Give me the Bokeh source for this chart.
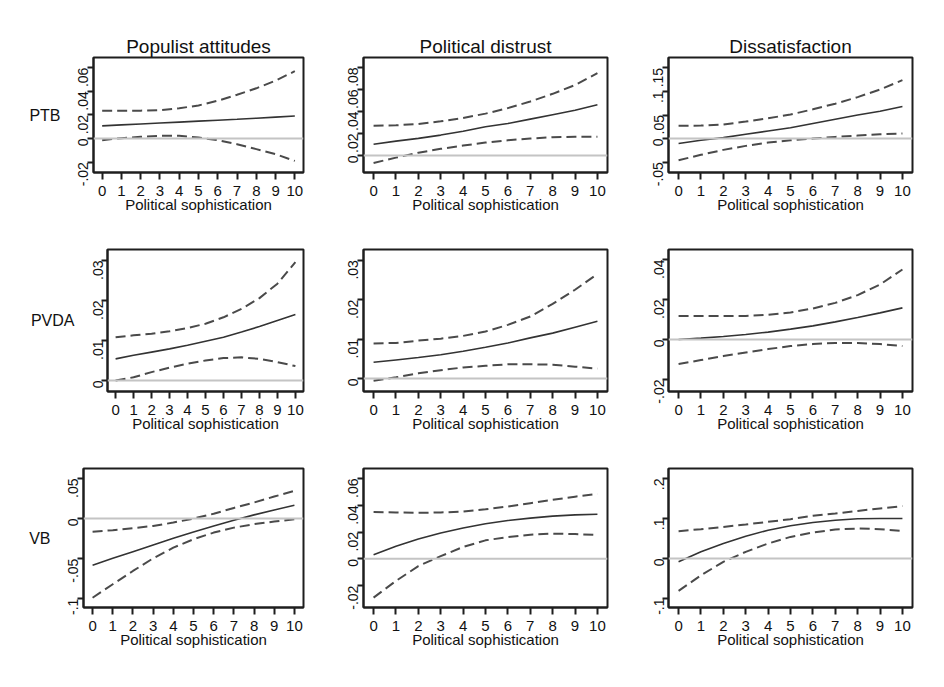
import math
from bokeh.plotting import figure
from bokeh.layouts import column, row
from bokeh.models import FixedTicker, Range1d, Span
from bokeh.embed import file_html
from bokeh.resources import INLINE

x_soph = list(range(11))
x_tick_labels = [str(v) for v in x_soph]
col_titles = ["Populist attitudes", "Political distrust", "Dissatisfaction"]
row_labels = ["PTB", "PVDA", "VB"]
x_title = "Political sophistication"

ptb_pop_est = [0.0107, 0.0115, 0.0123, 0.0131, 0.0139, 0.0147, 0.0155, 0.0163, 0.0172, 0.0181, 0.0190]
ptb_pop_hi = [0.0234, 0.0234, 0.0236, 0.0240, 0.0256, 0.0280, 0.0320, 0.0370, 0.0425, 0.0490, 0.0570]
ptb_pop_lo = [-0.0014, 0.0003, 0.0014, 0.0023, 0.0023, 0.0008, -0.0014, -0.0048, -0.0090, -0.0132, -0.0190]

ptb_dis_est = [0.0102, 0.0130, 0.0155, 0.0185, 0.0220, 0.0260, 0.0290, 0.0330, 0.0370, 0.0410, 0.0460]
ptb_dis_hi = [0.0270, 0.0274, 0.0286, 0.0310, 0.0340, 0.0380, 0.0430, 0.0490, 0.0560, 0.0640, 0.0748]
ptb_dis_lo = [-0.0068, -0.0020, 0.0025, 0.0060, 0.0090, 0.0117, 0.0138, 0.0154, 0.0166, 0.0170, 0.0170]

ptb_sat_est = [-0.0106, -0.0035, 0.0020, 0.0090, 0.0160, 0.0230, 0.0320, 0.0410, 0.0500, 0.0580, 0.0680]
ptb_sat_hi = [0.0270, 0.0275, 0.0300, 0.0360, 0.0430, 0.0510, 0.0620, 0.0740, 0.0880, 0.1040, 0.1240]
ptb_sat_lo = [-0.0460, -0.0345, -0.0240, -0.0155, -0.0085, -0.0035, 0.0000, 0.0035, 0.0063, 0.0090, 0.0106]

pvda_pop_est = [0.0054, 0.0063, 0.0071, 0.0079, 0.0088, 0.0098, 0.0108, 0.0121, 0.0135, 0.0150, 0.0165]
pvda_pop_hi = [0.0108, 0.0113, 0.0117, 0.0123, 0.0131, 0.0142, 0.0158, 0.0179, 0.0206, 0.0242, 0.0296]
pvda_pop_lo = [0.0000, 0.0008, 0.0021, 0.0032, 0.0042, 0.0050, 0.0056, 0.0058, 0.0054, 0.0046, 0.0036]

pvda_dis_est = [0.0041, 0.0047, 0.0053, 0.0060, 0.0069, 0.0079, 0.0090, 0.0103, 0.0115, 0.0130, 0.0145]
pvda_dis_hi = [0.0089, 0.0090, 0.0096, 0.0101, 0.0108, 0.0119, 0.0136, 0.0157, 0.0189, 0.0225, 0.0265]
pvda_dis_lo = [-0.0006, 0.0003, 0.0013, 0.0021, 0.0028, 0.0032, 0.0036, 0.0036, 0.0035, 0.0030, 0.0025]

pvda_sat_est = [0.0000, 0.0007, 0.0015, 0.0025, 0.0037, 0.0052, 0.0068, 0.0088, 0.0110, 0.0133, 0.0158]
pvda_sat_hi = [0.0117, 0.0117, 0.0117, 0.0118, 0.0123, 0.0135, 0.0155, 0.0183, 0.0222, 0.0275, 0.0350]
pvda_sat_lo = [-0.0123, -0.0103, -0.0083, -0.0065, -0.0048, -0.0033, -0.0023, -0.0017, -0.0017, -0.0023, -0.0033]

vb_pop_est = [-0.0583, -0.0496, -0.0413, -0.0330, -0.0246, -0.0167, -0.0092, -0.0020, 0.0046, 0.0108, 0.0167]
vb_pop_hi = [-0.0163, -0.0146, -0.0121, -0.0092, -0.0050, 0.0000, 0.0060, 0.0133, 0.0200, 0.0275, 0.0346]
vb_pop_lo = [-0.0988, -0.0820, -0.0654, -0.0496, -0.0363, -0.0258, -0.0175, -0.0113, -0.0070, -0.0038, -0.0008]

vb_dis_est = [0.0030, 0.0094, 0.0148, 0.0193, 0.0230, 0.0262, 0.0286, 0.0304, 0.0319, 0.0328, 0.0333]
vb_dis_hi = [0.0350, 0.0346, 0.0343, 0.0346, 0.0353, 0.0370, 0.0390, 0.0415, 0.0440, 0.0464, 0.0484]
vb_dis_lo = [-0.0289, -0.0165, -0.0054, 0.0020, 0.0089, 0.0138, 0.0163, 0.0180, 0.0188, 0.0185, 0.0178]

vb_sat_est = [-0.0083, 0.0167, 0.0375, 0.0558, 0.0708, 0.0817, 0.0900, 0.0958, 0.0992, 0.1000, 0.1000]
vb_sat_hi = [0.0683, 0.0733, 0.0790, 0.0850, 0.0917, 0.0983, 0.1067, 0.1125, 0.1190, 0.1250, 0.1310]
vb_sat_lo = [-0.0810, -0.0420, -0.0083, 0.0167, 0.0375, 0.0540, 0.0650, 0.0725, 0.0750, 0.0733, 0.0690]

# y ticks and their labels per panel
y_ticks = [
    [[-0.02, 0, 0.02, 0.04, 0.06], [0, 0.02, 0.04, 0.06, 0.08], [-0.05, 0, 0.05, 0.1, 0.15]],
    [[0, 0.01, 0.02, 0.03], [0, 0.01, 0.02, 0.03], [-0.02, 0, 0.02, 0.04]],
    [[-0.1, -0.05, 0, 0.05], [-0.02, 0, 0.02, 0.04, 0.06], [-0.1, 0, 0.1, 0.2]],
]
y_tick_labels = [
    [["-.02", "0", ".02", ".04", ".06"], ["0", ".02", ".04", ".06", ".08"], ["-.05", "0", ".05", ".1", ".15"]],
    [["0", ".01", ".02", ".03"], ["0", ".01", ".02", ".03"], ["-.02", "0", ".02", ".04"]],
    [["-.1", "-.05", "0", ".05"], ["-.02", "0", ".02", ".04", ".06"], ["-.1", "0", ".1", ".2"]],
]
y_ranges = [
    [(-0.0288, 0.0686), (-0.0155, 0.089), (-0.072, 0.172)],
    [(-0.00275, 0.03275), (-0.0033, 0.0327), (-0.026, 0.045)],
    [(-0.111, 0.0625), (-0.0363, 0.0674), (-0.1225, 0.225)],
]
series = [
    [(ptb_pop_est, ptb_pop_hi, ptb_pop_lo), (ptb_dis_est, ptb_dis_hi, ptb_dis_lo), (ptb_sat_est, ptb_sat_hi, ptb_sat_lo)],
    [(pvda_pop_est, pvda_pop_hi, pvda_pop_lo), (pvda_dis_est, pvda_dis_hi, pvda_dis_lo), (pvda_sat_est, pvda_sat_hi, pvda_sat_lo)],
    [(vb_pop_est, vb_pop_hi, vb_pop_lo), (vb_dis_est, vb_dis_hi, vb_dis_lo), (vb_sat_est, vb_sat_hi, vb_sat_lo)],
]

# layout geometry -> figure borders
col_w = [318, 310, 316]
row_h = [222, 230, 235]
left_b = [[93, 45, 40], [107, 45, 40], [83, 45, 40]]
right_b = [15, 21, 32]
top_b = [57, 27, 16]
bottom_b = [50, 61, 80]

FONT = "Liberation Sans"
DARK = "#1e1e1e"

rows = []
for r in range(3):
    figs = []
    for c in range(3):
        est, hi, lo = series[r][c]
        p = figure(
            width=col_w[c], height=row_h[r],
            output_backend="svg", toolbar_location=None,
            x_range=Range1d(-0.45, 10.45), y_range=Range1d(*y_ranges[r][c]),
            min_border_left=left_b[r][c], min_border_right=right_b[c],
            min_border_top=top_b[r], min_border_bottom=bottom_b[r],
            title=col_titles[c] if r == 0 else None,
        )
        p.background_fill_color = "white"
        p.border_fill_color = "white"
        p.outline_line_color = DARK
        p.outline_line_width = 2
        p.grid.visible = False
        if r == 0:
            p.title.text_font = FONT
            p.title.text_font_size = "19px"
            p.title.text_font_style = "normal"
            p.title.text_color = "#111111"
            p.title.align = "center"
            p.title.standoff = 2

        p.add_layout(Span(location=0, dimension="width", line_color="#c4c4c4", line_width=2))
        p.line(x_soph, hi, line_color="#4a4a4a", line_width=2, line_dash="10 5")
        p.line(x_soph, lo, line_color="#4a4a4a", line_width=2, line_dash="10 5")
        p.line(x_soph, est, line_color="#333333", line_width=1.6)

        xa = p.xaxis[0]
        xa.ticker = FixedTicker(ticks=x_soph)
        xa.major_label_overrides = {v: lab for v, lab in zip(x_soph, x_tick_labels)}
        xa.axis_label = x_title
        xa.axis_label_text_font = FONT
        xa.axis_label_text_font_size = "15px"
        xa.axis_label_text_font_style = "normal"
        xa.axis_label_text_color = "#111111"
        xa.axis_label_standoff = -3
        xa.major_label_text_font = FONT
        xa.major_label_text_font_size = "15px"
        xa.major_label_text_color = "#111111"
        xa.major_label_standoff = 6
        xa.axis_line_color = DARK
        xa.axis_line_width = 2
        xa.major_tick_line_color = DARK
        xa.major_tick_line_width = 2
        xa.major_tick_out = 7
        xa.major_tick_in = 0
        xa.minor_tick_line_color = None

        ya = p.yaxis[0]
        ya.ticker = FixedTicker(ticks=y_ticks[r][c])
        ya.major_label_overrides = {v: lab for v, lab in zip(y_ticks[r][c], y_tick_labels[r][c])}
        ya.major_label_orientation = math.pi / 2
        ya.major_label_text_font = FONT
        ya.major_label_text_font_size = "14px"
        ya.major_label_text_color = "#111111"
        ya.major_label_standoff = 4
        ya.axis_line_color = DARK
        ya.axis_line_width = 2
        ya.major_tick_line_color = DARK
        ya.major_tick_line_width = 2
        ya.major_tick_out = 6
        ya.major_tick_in = 0
        ya.minor_tick_line_color = None
        if c == 0:
            ya.axis_label = row_labels[r]
            ya.axis_label_orientation = "horizontal"
            ya.axis_label_text_font = FONT
            ya.axis_label_text_font_size = "16px"
            ya.axis_label_text_font_style = "normal"
            ya.axis_label_text_color = "#111111"
            ya.axis_label_standoff = 10
        figs.append(p)
    rows.append(row(*figs, spacing=0))

layout = column(*rows, spacing=0)
open("out.html", "w").write(file_html(layout, INLINE))
